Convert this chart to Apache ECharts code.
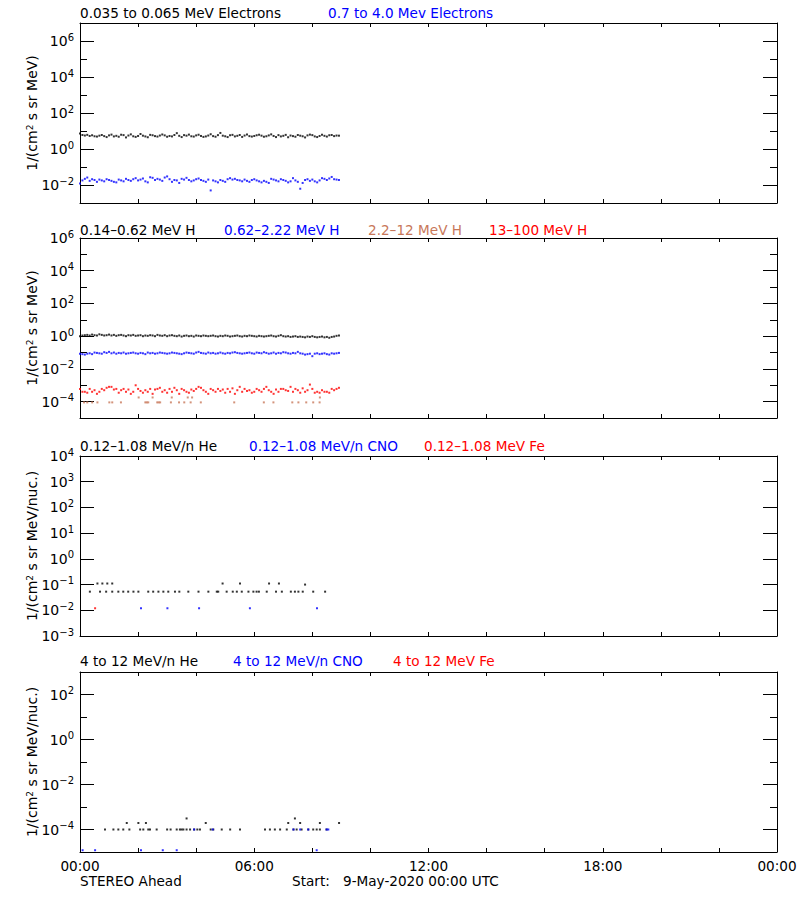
<!DOCTYPE html>
<html><head><meta charset="utf-8">
<script src="https://cdn.jsdelivr.net/npm/echarts@6/dist/echarts.min.js"></script>
<style>html,body{margin:0;padding:0;background:#fff}#c{width:800px;height:900px}</style>
</head><body><div id="c"></div>
<script>
// ---------- DATA ----------
const STEP_MIN = 5; // sampling step of regular series, minutes from 00:00
const xTickHours = [0, 6, 12, 18, 24];
const xTickText = ['00:00', '06:00', '12:00', '18:00', '00:00'];

// Panel 1: electrons
const eLow = [7.2,6.0,5.6,6.1,5.3,5.8,5.1,4.9,5.5,6.0,5.2,4.6,5.7,6.3,5.0,5.4,4.8,6.2,5.9,4.4,5.6,6.5,5.1,4.7,5.3,6.8,5.5,5.0,4.5,6.1,5.8,5.2,4.9,5.6,6.4,5.7,4.8,5.3,5.0,6.0,7.6,5.4,4.6,5.9,5.5,6.3,5.1,4.9,5.7,6.2,5.3,4.7,5.0,5.6,6.6,5.2,4.8,5.9,7.8,5.5,5.1,4.6,5.8,6.1,5.0,5.4,6.0,4.7,5.6,6.4,5.2,4.9,5.3,5.8,6.2,5.5,4.8,5.1,5.7,6.5,5.3,4.6,5.9,5.0,5.4,6.1,4.5,5.6,5.2,4.8,6.0,5.5,5.1,4.4,5.7,6.3,5.9,5.0,4.6,5.3,6.2,5.4,4.9,5.8,6.0,5.2,5.6,5.5];
const eHigh = [0.012,0.018,0.022,0.026,0.017,0.021,0.019,0.015,0.020,0.018,0.016,0.021,0.019,0.017,0.015,0.014,0.020,0.018,0.016,0.022,0.019,0.017,0.021,0.024,0.018,0.020,0.023,0.016,0.014,0.027,0.025,0.019,0.022,0.020,0.017,0.026,0.030,0.021,0.015,0.019,0.018,0.013,0.022,0.020,0.025,0.019,0.016,0.018,0.021,0.023,0.019,0.017,0.015,0.020,0.005,0.018,0.016,0.014,0.019,0.017,0.015,0.021,0.024,0.020,0.022,0.019,0.018,0.016,0.020,0.017,0.015,0.019,0.021,0.018,0.016,0.014,0.017,0.015,0.013,0.022,0.020,0.018,0.016,0.021,0.019,0.017,0.014,0.016,0.024,0.018,0.015,0.0062,0.013,0.019,0.021,0.017,0.020,0.016,0.014,0.018,0.024,0.022,0.019,0.023,0.028,0.021,0.020,0.019];

// Panel 2: protons
const hLow = [1.0,1.1,1.15,1.2,1.1,1.25,1.15,1.1,1.3,1.2,1.1,1.15,1.25,1.1,1.2,1.05,1.15,1.2,1.1,1.0,1.15,1.1,1.2,1.05,1.1,1.15,1.0,1.1,1.05,1.15,1.1,1.0,1.2,1.1,1.05,1.15,1.0,1.1,1.15,1.05,1.0,1.1,0.95,1.05,1.1,1.0,1.05,0.95,1.1,1.05,1.0,1.1,1.05,1.0,1.05,1.1,1.0,0.95,1.05,1.0,1.1,1.05,0.95,1.0,1.05,1.1,1.0,0.95,1.05,1.0,1.1,1.05,1.0,0.95,1.05,1.0,0.95,1.0,1.05,1.1,1.0,0.95,1.05,1.15,1.0,0.95,1.0,0.9,0.95,1.0,0.9,0.95,0.9,0.85,0.95,0.9,1.0,0.9,0.85,0.9,0.95,0.85,0.9,0.8,0.9,0.95,1.05,1.1];
const hMid = [0.085,0.08,0.075,0.085,0.09,0.08,0.1,0.095,0.09,0.085,0.105,0.095,0.11,0.09,0.1,0.085,0.095,0.09,0.1,0.085,0.09,0.095,0.1,0.09,0.085,0.095,0.09,0.08,0.1,0.09,0.095,0.085,0.09,0.1,0.095,0.09,0.085,0.09,0.1,0.095,0.09,0.085,0.08,0.09,0.1,0.095,0.09,0.085,0.1,0.11,0.095,0.09,0.085,0.1,0.09,0.095,0.085,0.09,0.1,0.09,0.085,0.095,0.09,0.1,0.105,0.095,0.09,0.085,0.09,0.095,0.1,0.09,0.085,0.1,0.095,0.09,0.105,0.095,0.085,0.09,0.1,0.085,0.095,0.09,0.105,0.1,0.09,0.085,0.095,0.09,0.11,0.09,0.085,0.075,0.08,0.085,0.06,0.085,0.09,0.08,0.085,0.09,0.08,0.075,0.09,0.085,0.09,0.095];
const hHigh = [6e-4,4e-4,4e-4,3.5e-4,6e-4,4e-4,5e-4,3e-4,4e-4,6e-4,5e-4,7e-4,8e-4,8e-4,5.5e-4,6e-4,3.5e-4,5e-4,6e-4,4e-4,5.5e-4,3e-4,4e-4,1e-3,6e-4,4.5e-4,3.5e-4,5e-4,4e-4,6e-4,3e-4,5.5e-4,6e-4,7e-4,4e-4,5e-4,3.5e-4,6e-4,4e-4,7e-4,5e-4,3e-4,6e-4,5e-4,4e-4,3.5e-4,5.5e-4,4.5e-4,6e-4,8e-4,7e-4,5e-4,4e-4,3e-4,6e-4,5e-4,4e-4,6e-4,4.5e-4,5.5e-4,3.5e-4,6e-4,4e-4,6.5e-4,3e-4,5e-4,8e-4,4e-4,6e-4,4.5e-4,5e-4,3.5e-4,4e-4,6e-4,5e-4,4e-4,6e-4,8e-4,5e-4,4e-4,3e-4,5.5e-4,4e-4,6e-4,6e-4,5e-4,4.5e-4,8e-4,4e-4,6e-4,5e-4,3.5e-4,6.5e-4,4e-4,5e-4,1.1e-3,6e-4,3.5e-4,4e-4,3.5e-4,5e-4,4e-4,4e-4,3.5e-4,6e-4,5e-4,6e-4,7e-4];
// sparse series: [hour, value]
const hMed = [[0.14,9e-5],[0.25,9e-5],[0.42,9e-5],[0.6,9e-5],[1.01,9e-5],[1.11,9e-5],[1.41,9e-5],[2.02,1.8e-4],[2.25,9e-5],[2.3,9e-5],[2.35,9e-5],[2.5,1.8e-4],[2.66,9e-5],[2.71,9e-5],[2.76,9e-5],[3.13,9e-5],[3.16,1.8e-4],[3.41,9e-5],[3.59,9e-5],[3.71,1.8e-4],[3.81,9e-5],[3.86,1.8e-4],[4.16,9e-5],[5.31,9e-5],[6.33,9e-5],[6.66,9e-5],[7.31,9e-5],[7.52,9e-5],[7.79,9e-5],[8.03,9e-5],[8.25,9e-5],[8.26,1.8e-4]];

// Panel 3: 0.12-1.08 MeV/n heavy ions
const lowHe = [[0.34,0.053],[0.60,0.11],[0.69,0.053],[0.77,0.11],[0.90,0.053],[0.94,0.11],[1.11,0.053],[1.11,0.11],[1.32,0.053],[1.49,0.053],[1.66,0.053],[1.84,0.053],[2.01,0.053],[2.35,0.053],[2.52,0.053],[2.70,0.053],[2.87,0.053],[3.04,0.053],[3.27,0.053],[3.42,0.053],[3.73,0.053],[4.08,0.053],[4.42,0.053],[4.71,0.053],[4.76,0.053],[4.91,0.11],[5.05,0.053],[5.26,0.053],[5.40,0.053],[5.51,0.11],[5.57,0.053],[5.80,0.053],[5.97,0.053],[6.08,0.053],[6.16,0.053],[6.43,0.053],[6.51,0.11],[6.75,0.053],[6.85,0.11],[6.95,0.053],[7.26,0.053],[7.40,0.053],[7.52,0.053],[7.67,0.053],[7.75,0.10],[8.03,0.053],[8.44,0.053]];
const lowCNO = [[2.10,0.012],[3.01,0.012],[4.10,0.012],[5.85,0.012],[8.16,0.012]];
const lowFe = [[0.52,0.012]];

// Panel 4: 4-12 MeV/n heavy ions
const highHe = [[0.86,1e-4],[1.15,1e-4],[1.32,1e-4],[1.49,1e-4],[1.61,1.95e-4],[1.70,1e-4],[2.01,1.95e-4],[2.07,1e-4],[2.18,1e-4],[2.27,1.95e-4],[2.35,1e-4],[2.41,1e-4],[2.64,1e-4],[3.00,1e-4],[3.12,1e-4],[3.33,1e-4],[3.44,1e-4],[3.50,1e-4],[3.56,1e-4],[3.67,3.1e-4],[3.67,1e-4],[3.79,1e-4],[3.93,1e-4],[4.04,1e-4],[4.13,1e-4],[4.33,1.95e-4],[4.50,1e-4],[4.59,1e-4],[4.88,1e-4],[5.17,1e-4],[5.51,1e-4],[6.37,1e-4],[6.54,1e-4],[6.71,1e-4],[6.89,1e-4],[7.12,1e-4],[7.17,1.95e-4],[7.35,1e-4],[7.40,3.1e-4],[7.46,1e-4],[7.58,1.95e-4],[7.63,1e-4],[7.86,1e-4],[8.03,1e-4],[8.15,1e-4],[8.26,1.95e-4],[8.26,1e-4],[8.49,1e-4],[8.92,1.95e-4]];
const highCNO = [[0.09,1.2e-5],[0.52,1.2e-5],[2.10,1.2e-5],[2.85,1.2e-5],[3.33,1.2e-5],[3.93,1e-4],[4.57,1e-4],[7.35,1e-4],[7.58,1e-4],[7.86,1e-4],[8.15,1.2e-5],[8.49,1e-4],[8.55,1e-4]];
const highFe = [];

// ---------- LAYOUT / STYLE ----------
const FONT = 'DejaVu Sans';
const BLUE = '#0000ff', RED = '#ff0000', BROWN = '#c8785a', BLACK = '#000000';
const GL = 80, GW = 697, GH = 180;
const TFONT = '13.6px ' + FONT;
const panels = [
  { top: 23,  min: 1e-3, max: 1e7, major: [1e-2,1,1e2,1e4,1e6], minor: [1e-1,10,1e3,1e5],
    yName: '1/(cm{s|2} s sr MeV)',
    titles: [['0.035 to 0.065 MeV Electrons', BLACK, 80], ['0.7 to 4.0 Mev Electrons', BLUE, 328]], ty: 13,
    series: [[eLow, BLACK], [eHigh, BLUE]] },
  { top: 238, min: 1e-5, max: 1e6, major: [1e-4,1e-2,1,1e2,1e4,1e6], minor: [1e-3,1e-1,10,1e3,1e5],
    yName: '1/(cm{s|2} s sr MeV)',
    titles: [['0.14\u20130.62 MeV H', BLACK, 80], ['0.62\u20132.22 MeV H', BLUE, 224], ['2.2\u201312 MeV H', BROWN, 368], ['13\u2013100 MeV H', RED, 489]], ty: 230,
    series: [[hMed, BROWN], [hHigh, RED], [hMid, BLUE], [hLow, BLACK]] },
  { top: 456, min: 1e-3, max: 1e4, major: [1e-3,1e-2,1e-1,1,10,1e2,1e3,1e4], minor: [],
    yName: '1/(cm{s|2} s sr MeV/nuc.)',
    titles: [['0.12\u20131.08 MeV/n He', BLACK, 80], ['0.12\u20131.08 MeV/n CNO', BLUE, 249], ['0.12\u20131.08 MeV Fe', RED, 424]], ty: 446,
    series: [[lowHe, BLACK], [lowCNO, BLUE], [lowFe, RED]] },
  { top: 672, min: 1e-5, max: 1e3, major: [1e-4,1e-2,1,1e2], minor: [1e-3,1e-1,10],
    yName: '1/(cm{s|2} s sr MeV/nuc.)',
    titles: [['4 to 12 MeV/n He', BLACK, 80], ['4 to 12 MeV/n CNO', BLUE, 233], ['4 to 12 MeV Fe', RED, 393]], ty: 661,
    series: [[highHe, BLACK], [highCNO, BLUE], [highFe, RED]] }
];

function toPoints(arr) {
  if (arr.length && Array.isArray(arr[0])) return arr;
  return arr.map((v, i) => [i * STEP_MIN / 60, v]).filter(p => p[1] != null);
}
function expLabel(v) {
  const e = Math.round(Math.log10(v));
  return '{b|10}{e|' + (e < 0 ? '\u2212' + (-e) : String(e)) + '}';
}
const labelRich = {
  b: { fontSize: 14, fontFamily: FONT, color: BLACK, lineHeight: 18 },
  e: { fontSize: 10, fontFamily: FONT, color: BLACK, verticalAlign: 'top', lineHeight: 10 }
};

const grid = [], xAxis = [], yAxis = [], series = [], graphic = [];
panels.forEach((p, i) => {
  grid.push({ left: GL, top: p.top, width: GW, height: GH, show: false });
  const last = i === panels.length - 1;
  ['bottom', 'top'].forEach(pos => {
    xAxis.push({
      type: 'value', gridIndex: i, position: pos, min: 0, max: 24, interval: 2,
      axisLine: { show: true, onZero: false, lineStyle: { color: BLACK, width: 1 } },
      axisTick: { show: true, inside: true, length: 4, lineStyle: { color: BLACK } },
      splitLine: { show: false },
      axisLabel: (pos === 'bottom' && last) ? {
        show: true, customValues: xTickHours, margin: 7, color: BLACK, fontSize: 13.6, fontFamily: FONT,
        formatter: v => xTickText[xTickHours.indexOf(v)]
      } : { show: false }
    });
  });
  ['left', 'right'].forEach(pos => {
    yAxis.push({
      type: 'log', logBase: 10, gridIndex: i, position: pos, min: p.min, max: p.max,
      name: pos === 'left' ? p.yName : '', nameLocation: 'middle', nameRotate: 90, nameGap: 41,
      nameMoveOverlap: false,
      nameTextStyle: { fontSize: 14, fontFamily: FONT, color: BLACK,
        rich: { s: { fontSize: 9, fontFamily: FONT, color: BLACK, verticalAlign: 'top' } } },
      axisLine: { show: true, onZero: false, lineStyle: { color: BLACK, width: 1 } },
      axisTick: { show: true, inside: true, length: 14, customValues: p.major, lineStyle: { color: BLACK } },
      splitLine: { show: false },
      axisLabel: pos === 'left' ? { show: true, customValues: p.major, margin: 6, formatter: expLabel, rich: labelRich } : { show: false }
    });
    yAxis.push({
      type: 'log', logBase: 10, gridIndex: i, position: pos, min: p.min, max: p.max,
      axisLine: { show: false, onZero: false },
      axisTick: { show: p.minor.length > 0, inside: true, length: 7, customValues: p.minor.length ? p.minor : [p.min], lineStyle: { color: BLACK } },
      splitLine: { show: false },
      axisLabel: { show: false }
    });
  });
  p.series.forEach(([arr, color]) => {
    series.push({
      type: 'scatter', xAxisIndex: 2 * i, yAxisIndex: 4 * i,
      data: toPoints(arr), symbol: 'rect', symbolSize: 2,
      itemStyle: { color: color }, silent: true, clip: true
    });
  });
  p.titles.forEach(([txt, color, x]) => {
    graphic.push({ type: 'text', x: x, y: p.ty, style: { text: txt, fill: color, font: TFONT, textVerticalAlign: 'middle' } });
  });
});
graphic.push({ type: 'text', x: 80, y: 881, style: { text: 'STEREO Ahead', fill: BLACK, font: TFONT, textVerticalAlign: 'middle' } });
graphic.push({ type: 'text', x: 292, y: 881, style: { text: 'Start:', fill: BLACK, font: TFONT, textVerticalAlign: 'middle' } });
graphic.push({ type: 'text', x: 343, y: 881, style: { text: '9-May-2020 00:00 UTC', fill: BLACK, font: TFONT, textVerticalAlign: 'middle' } });

const chart = echarts.init(document.getElementById('c'), null, { renderer: 'svg' });
chart.setOption({ animation: false, backgroundColor: '#fff', grid, xAxis, yAxis, series, graphic });
</script>
</body></html>
